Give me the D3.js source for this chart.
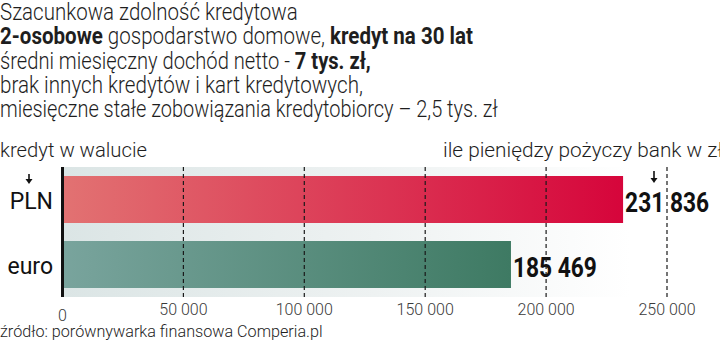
<!DOCTYPE html>
<html>
<head>
<meta charset="utf-8">
<script src="https://cdn.jsdelivr.net/npm/d3@7"></script>
<style>
  html, body { margin: 0; padding: 0; background: #fff; }
  svg { display: block; font-family: Roboto, "Noto Sans", sans-serif; }
</style>
</head>
<body>
<svg id="chart" width="720" height="344"></svg>
<script>
// Credit capacity by loan currency (PLN)
const categories = ["PLN", "euro"];
const values = [231836, 185469];
const valueLabels = ["231 836", "185 469"];
const tickValues = [0, 50000, 100000, 150000, 200000, 250000];
const tickLabels = ["0", "50 000", "100 000", "150 000", "200 000", "250 000"];

const titleLines = [
  [["Szacunkowa zdolność kredytowa", false]],
  [["2-osobowe", true], [" gospodarstwo domowe, ", false], ["kredyt na 30 lat", true]],
  [["średni miesięczny dochód netto - ", false], ["7 tys. zł,", true]],
  [["brak innych kredytów i kart kredytowych,", false]],
  [["miesięczne stałe zobowiązania kredytobiorcy – 2,5 tys. zł", false]]
];
const titleWidths = [298, 473, 371, 363, 498];
const leftCaption = "kredyt w walucie";
const rightCaption = "ile pieniędzy pożyczy bank w zł";
const sourceText = "źródło: porównywarka finansowa Comperia.pl";

const barColors = {
  PLN: ["#e27272", "#d6053b"],
  euro: ["#79a49d", "#3e7a63"]
};

const svg = d3.select("#chart");
const defs = svg.append("defs");

const x = d3.scaleLinear().domain([0, 250000]).range([62.5, 667]);
const y = d3.scaleBand().domain(categories).range([167, 297])
  .paddingInner(18 / 65).paddingOuter(9 / 65);

// helper: squeeze a text element horizontally to a given width
function fitWidth(sel, x0, baseline, width) {
  const w = sel.node().getComputedTextLength();
  sel.attr("transform", `translate(${x0},${baseline}) scale(${width / w},1)`);
}

// title block
titleLines.forEach((parts, i) => {
  const t = svg.append("text")
    .attr("x", 0).attr("y", 0)
    .attr("font-size", 24).attr("fill", "#1e1e1e");
  parts.forEach(([s, b]) => {
    t.append("tspan").text(s).attr("font-weight", b ? 700 : 300);
  });
  fitWidth(t, 0, 20 + i * 24.3, titleWidths[i]);
});

// captions above the plot
const lc = svg.append("text").text(leftCaption)
  .attr("font-size", 20).attr("font-weight", 300).attr("fill", "#1e1e1e");
fitWidth(lc, 0, 157, 147);
const rc = svg.append("text").text(rightCaption)
  .attr("font-size", 20).attr("font-weight", 300).attr("fill", "#1e1e1e");
fitWidth(rc, 443, 157, 280);

// background band behind bars
const bgGrad = defs.append("linearGradient").attr("id", "bg")
  .attr("x1", 0).attr("x2", 1).attr("y1", 0).attr("y2", 0);
bgGrad.append("stop").attr("offset", 0).attr("stop-color", "#dbe5e5");
bgGrad.append("stop").attr("offset", 0.55).attr("stop-color", "#eef2f2");
bgGrad.append("stop").attr("offset", 1).attr("stop-color", "#ffffff");
svg.append("rect")
  .attr("x", x(0)).attr("y", y.range()[0])
  .attr("width", x(235000) - x(0)).attr("height", y.range()[1] - y.range()[0])
  .attr("fill", "url(#bg)");

// bar gradients
categories.forEach((c, i) => {
  const g = defs.append("linearGradient").attr("id", "bar" + i)
    .attr("x1", 0).attr("x2", 1).attr("y1", 0).attr("y2", 0);
  g.append("stop").attr("offset", 0).attr("stop-color", barColors[c][0]);
  g.append("stop").attr("offset", 1).attr("stop-color", barColors[c][1]);
});

svg.append("g").selectAll("rect")
  .data(categories)
  .join("rect")
  .attr("x", x(0))
  .attr("y", d => y(d))
  .attr("width", (d, i) => x(values[i]) - x(0))
  .attr("height", y.bandwidth())
  .attr("fill", (d, i) => `url(#bar${i})`);

// value labels
svg.append("g").selectAll("text")
  .data(categories)
  .join("text")
  .text((d, i) => valueLabels[i])
  .attr("font-size", 28).attr("font-weight", 700).attr("fill", "#111")
  .each(function (d, i) {
    fitWidth(d3.select(this), x(values[i]) + 2, y(d) + y.bandwidth() / 2 + 12, 84);
  });

// dashed gridlines drawn over bars
svg.append("g").selectAll("line")
  .data(tickValues.slice(1))
  .join("line")
  .attr("x1", d => x(d)).attr("x2", d => x(d))
  .attr("y1", y.range()[0]).attr("y2", y.range()[1])
  .attr("stroke", "#1a1a1a").attr("stroke-width", 1.2)
  .attr("stroke-dasharray", "4,3");

// baseline axis
svg.append("line")
  .attr("x1", x(0)).attr("x2", x(0))
  .attr("y1", y.range()[0]).attr("y2", y.range()[1])
  .attr("stroke", "#111").attr("stroke-width", 3);

// tick labels
svg.append("g").selectAll("text")
  .data(tickValues)
  .join("text")
  .attr("x", d => x(d))
  .attr("y", d => d === 0 ? 321 : 315)
  .attr("text-anchor", "middle")
  .attr("font-size", 16).attr("font-weight", 300).attr("fill", "#3a3a3a")
  .text((d, i) => tickLabels[i]);

// category labels
svg.append("g").selectAll("text")
  .data(categories)
  .join("text")
  .attr("x", 53)
  .attr("y", d => y(d) + y.bandwidth() / 2 + 9)
  .attr("text-anchor", "end")
  .attr("font-size", 23).attr("font-weight", 400).attr("fill", "#111")
  .text(d => d);

// small down arrows
function arrow(cx, top, bottom) {
  svg.append("line").attr("x1", cx).attr("x2", cx)
    .attr("y1", top).attr("y2", bottom - 4)
    .attr("stroke", "#111").attr("stroke-width", 1.6);
  svg.append("path")
    .attr("d", `M${cx - 3.5},${bottom - 5}L${cx + 3.5},${bottom - 5}L${cx},${bottom}Z`)
    .attr("fill", "#111");
}
arrow(29, 174, 184);
arrow(654, 171, 183);

// source
const src = svg.append("text").text(sourceText)
  .attr("font-size", 16).attr("font-weight", 300).attr("fill", "#1e1e1e");
fitWidth(src, 0, 337, 323);
</script>
</body>
</html>
